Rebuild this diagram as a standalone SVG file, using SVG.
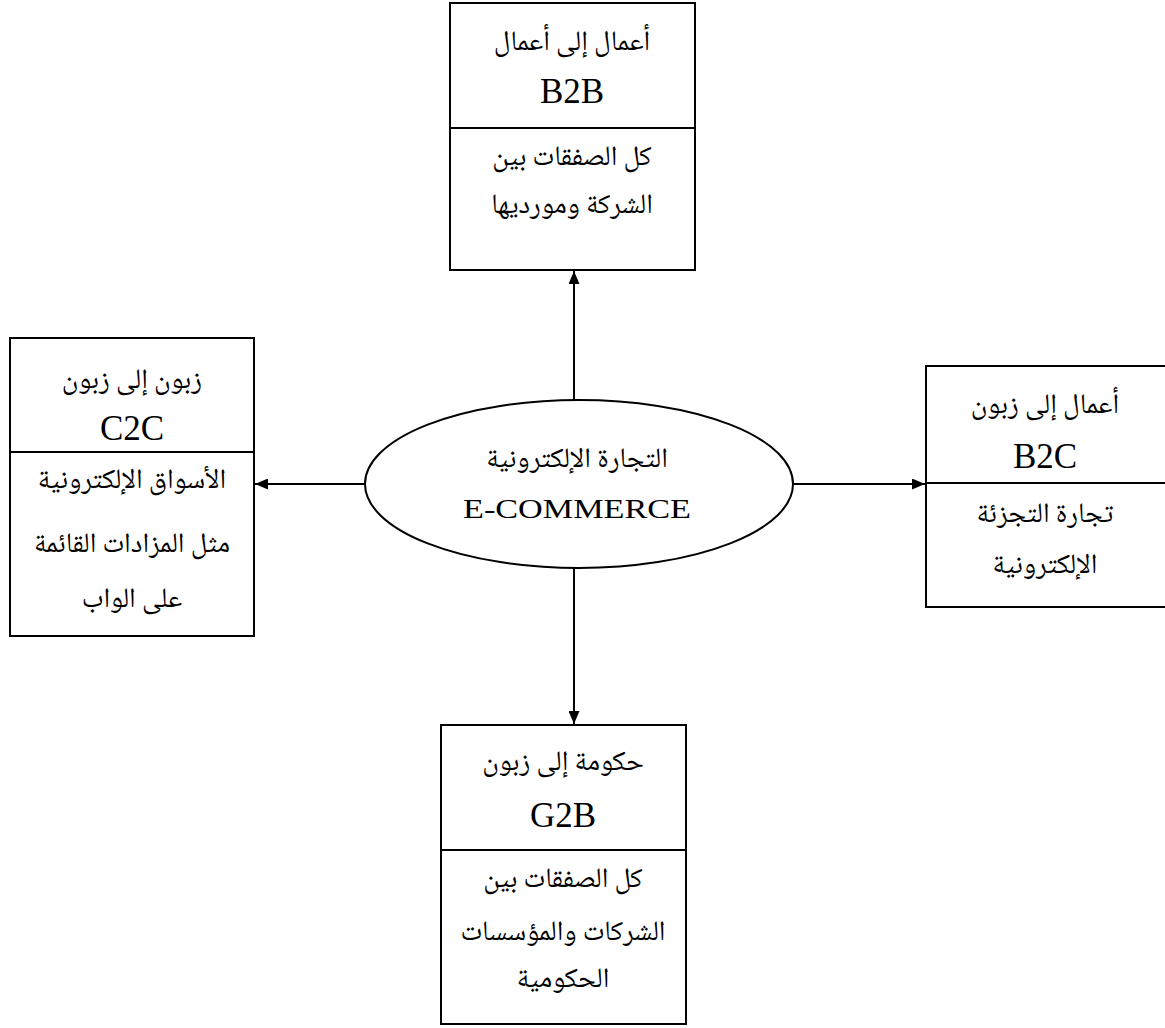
<svg xmlns="http://www.w3.org/2000/svg" width="1165" height="1028" viewBox="0 0 1165 1028">
  <style>
    .box { fill: #fff; stroke: #000; stroke-width: 2; }
    .div { stroke: #000; stroke-width: 2; }
    .ar { font-family: "Noto Naskh Arabic", "DejaVu Sans", "Liberation Serif", serif; font-size: 28px; text-anchor: middle; fill: #000; }
    .code { font-family: "Liberation Serif", "Times New Roman", serif; font-size: 35px; text-anchor: middle; fill: #000; }
    .link { stroke: #000; stroke-width: 2; fill: none; marker-end: url(#arrow); }
  </style>
  <defs>
    <marker id="arrow" viewBox="0 0 13 11" refX="13" refY="5.5" markerWidth="13" markerHeight="11" markerUnits="userSpaceOnUse" orient="auto">
      <path d="M0,0 L13,5.5 L0,11 Z" fill="#000"/>
    </marker>
  </defs>
  <rect width="1165" height="1028" fill="#fff"/>

  <g id="connectors">
    <line class="link" x1="574" y1="400" x2="574" y2="271"/>
    <line class="link" x1="574" y1="567" x2="574" y2="724"/>
    <line class="link" x1="365" y1="484" x2="255" y2="484"/>
    <line class="link" x1="793" y1="484" x2="925" y2="484"/>
  </g>

  <g id="ecommerce">
    <ellipse cx="579" cy="484" rx="214" ry="84" fill="#fff" stroke="#000" stroke-width="2"/>
    <text class="ar" x="577" y="467" direction="rtl">التجارة الإلكترونية</text>
    <text class="code" x="577" y="518" style="font-size:28px" textLength="228" lengthAdjust="spacingAndGlyphs">E-COMMERCE</text>
  </g>

  <g id="b2b">
    <rect class="box" x="450" y="3" width="245" height="267"/>
    <line class="div" x1="450" y1="128" x2="695" y2="128"/>
    <text class="ar" x="572" y="50" direction="rtl">أعمال إلى أعمال</text>
    <text class="code" x="572" y="103">B2B</text>
    <text class="ar" x="572" y="165" direction="rtl">كل الصفقات بين</text>
    <text class="ar" x="572" y="213" direction="rtl">الشركة ومورديها</text>
  </g>

  <g id="c2c">
    <rect class="box" x="10" y="338" width="244" height="298"/>
    <line class="div" x1="10" y1="452" x2="254" y2="452"/>
    <text class="ar" x="132" y="388" direction="rtl">زبون إلى زبون</text>
    <text class="code" x="132" y="440">C2C</text>
    <text class="ar" x="132" y="488" direction="rtl">الأسواق الإلكترونية</text>
    <text class="ar" x="132" y="552" direction="rtl">مثل المزادات القائمة</text>
    <text class="ar" x="132" y="607" direction="rtl">على الواب</text>
  </g>

  <g id="b2c">
    <rect class="box" x="926" y="366" width="245" height="241"/>
    <line class="div" x1="926" y1="483" x2="1165" y2="483"/>
    <text class="ar" x="1045" y="413" direction="rtl">أعمال إلى زبون</text>
    <text class="code" x="1045" y="468">B2C</text>
    <text class="ar" x="1045" y="522" direction="rtl">تجارة التجزئة</text>
    <text class="ar" x="1045" y="573" direction="rtl">الإلكترونية</text>
  </g>

  <g id="g2b">
    <rect class="box" x="441" y="725" width="245" height="299"/>
    <line class="div" x1="441" y1="850" x2="686" y2="850"/>
    <text class="ar" x="563" y="770" direction="rtl">حكومة إلى زبون</text>
    <text class="code" x="563" y="827">G2B</text>
    <text class="ar" x="563" y="887" direction="rtl">كل الصفقات بين</text>
    <text class="ar" x="563" y="940" direction="rtl">الشركات والمؤسسات</text>
    <text class="ar" x="563" y="987" direction="rtl">الحكومية</text>
  </g>
</svg>
